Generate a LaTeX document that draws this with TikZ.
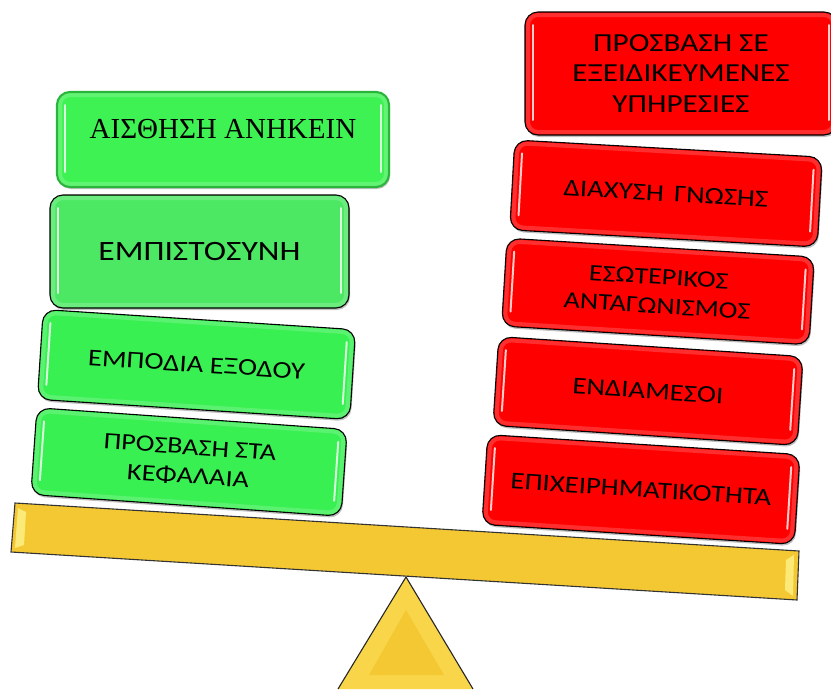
\documentclass[tikz,border=0pt]{standalone}
\usepackage{fontspec}
\setmainfont{Carlito}[FakeStretch=1.2]
\newfontfamily\tnr{Liberation Serif}
\usetikzlibrary{shadows}
\definecolor{grnA}{HTML}{3EF253}
\definecolor{grnB}{HTML}{4CE864}
\definecolor{grnC}{HTML}{39F052}
\definecolor{grnEdge}{HTML}{28B53A}
\definecolor{redA}{HTML}{FF0000}
\definecolor{gold}{HTML}{F4C832}
\definecolor{goldL}{HTML}{F9D549}
\definecolor{goldHi}{HTML}{FFF38A}
\tikzset{
  x=1pt, y=-1pt,
  box/.style={rounded corners=13pt, draw=black, line width=1.1pt, text=black,
    align=center, inner sep=0pt, transform shape,
    drop shadow={shadow xshift=1pt, shadow yshift=-2pt, opacity=.25, fill=black}},
  redbox/.style={box, fill=redA},
  grnbox/.style={box, fill=grnC},
  grnboxB/.style={box, fill=grnB},
  topbox/.style={box, fill=grnA, draw=grnEdge, line width=2.2pt, text depth=22pt},
  gloss/.style={white, line width=2pt, line cap=round, opacity=.8},
  rim/.style={rounded corners=10pt, line width=4pt, white, opacity=.18},
  beamstyle/.style={draw=black!80, line width=1.1pt, fill=gold},
}
% name, cx, cy, angle, width, height, style, font, text
\newcommand\glossbox[9]{%
  \begin{scope}[shift={(#2,#3)}, rotate=#4]
    \node[#7, font={#8}, minimum width=#5pt, minimum height=#6pt] (#1) at (0,0) {#9};
    \draw[rim] (-#5/2+3,-#6/2+3) rectangle (#5/2-3,#6/2-3);
    \draw[gloss] (-#5/2+8,-#6/2+13) -- (-#5/2+8,#6/2-15);
    \draw[gloss] (#5/2-8,-#6/2+13) -- (#5/2-8,#6/2-15);
  \end{scope}}
\begin{document}
\begin{tikzpicture}
\useasboundingbox (0,0) rectangle (831,689);
% beam
\draw[beamstyle] (15,503) -- (799,551) -- (797,600) -- (11,552) -- cycle;
\fill[goldHi, opacity=.8] (18,508) -- (26,512) -- (24,545) -- (15,548) -- cycle;
\fill[goldHi, opacity=.8] (794,555) -- (786,560) -- (785,590) -- (793,596) -- cycle;
% fulcrum
\fill[goldL] (406,577) -- (473,689) -- (338,689) -- cycle;
\fill[gold] (406,610) -- (444,675) -- (369,675) -- cycle;
\draw[black!85, line width=1.1pt, line join=round] (338,689) -- (406,577) -- (473,689);
% left column
\glossbox{a}{223}{139.5}{0}{332}{95}{topbox}{\tnr\fontsize{29pt}{33pt}\selectfont}{ΑΙΣΘΗΣΗ ΑΝΗΚΕΙΝ}
\glossbox{b}{199.5}{251.5}{0}{299}{113}{grnboxB}{\fontsize{28pt}{32pt}\selectfont}{ΕΜΠΙΣΤΟΣΥΝΗ}
\glossbox{c}{196.5}{364.5}{-3.7}{313}{90}{grnbox}{\fontsize{24pt}{28pt}\selectfont}{ΕΜΠΟΔΙΑ ΕΞΟΔΟΥ}
\glossbox{d}{189}{462}{-4.0}{311}{87}{grnbox}{\fontsize{23.5pt}{29pt}\selectfont}{ΠΡΟΣΒΑΣΗ ΣΤΑ\\ΚΕΦΑΛΑΙΑ}
% right column
\glossbox{e}{681}{73.5}{0}{312}{123}{redbox}{\fontsize{26pt}{30.5pt}\selectfont}{ΠΡΟΣΒΑΣΗ ΣΕ\\ΕΞΕΙΔΙΚΕΥΜΕΝΕΣ\\ΥΠΗΡΕΣΙΕΣ}
\glossbox{f}{666}{193.5}{-3.2}{308}{90}{redbox}{\fontsize{24pt}{28pt}\selectfont}{ΔΙΑΧΥΣΗ\hspace{4pt} ΓΝΩΣΗΣ}
\glossbox{g}{658}{291.5}{-3.5}{308}{88}{redbox}{\fontsize{23.5pt}{29pt}\selectfont}{ΕΣΩΤΕΡΙΚΟΣ\\ΑΝΤΑΓΩΝΙΣΜΟΣ}
\glossbox{h}{648}{391}{-3.75}{305}{89}{redbox}{\fontsize{24pt}{28pt}\selectfont}{ΕΝΔΙΑΜΕΣΟΙ}
\glossbox{i}{641}{489.5}{-3.66}{313}{90}{redbox}{\fontsize{24pt}{28pt}\selectfont}{ΕΠΙΧΕΙΡΗΜΑΤΙΚΟΤΗΤΑ}
\end{tikzpicture}
\end{document}
